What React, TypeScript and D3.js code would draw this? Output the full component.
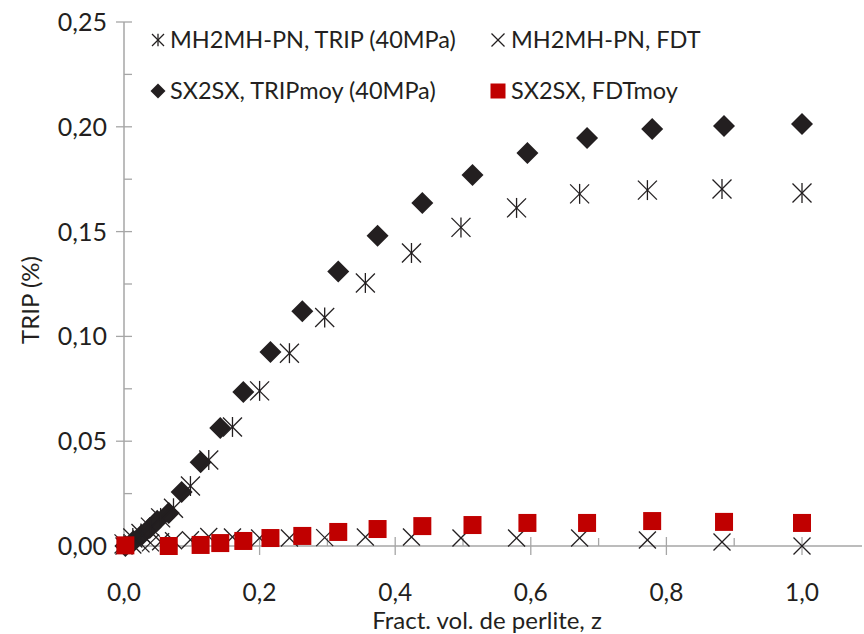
import React from "react";
import * as d3 from "d3";

// MH2MH-PN series (shared z values)
const mhZ = [0, 0.013, 0.025, 0.039, 0.054, 0.073, 0.098, 0.125, 0.16, 0.2, 0.244, 0.296, 0.356, 0.424, 0.497, 0.579, 0.672, 0.772, 0.882, 1.0];
const mhTrip = [0.001, 0.0038, 0.006, 0.009, 0.0134, 0.018, 0.0286, 0.041, 0.0568, 0.074, 0.092, 0.109, 0.1255, 0.1398, 0.152, 0.1613, 0.168, 0.1698, 0.1703, 0.1684];
const mhFdt = [0.0, 0.0005, 0.001, 0.0015, 0.002, 0.0025, 0.003, 0.0045, 0.0043, 0.0038, 0.0038, 0.004, 0.0043, 0.0043, 0.0038, 0.0038, 0.0038, 0.0029, 0.0019, 0.0];

// SX2SX series
const sxZ = [0.002, 0.014, 0.026, 0.038, 0.049, 0.066, 0.085, 0.113, 0.142, 0.176, 0.216, 0.263, 0.316, 0.374, 0.44, 0.514, 0.595, 0.683, 0.779, 0.885, 1.0];
const sxTrip = [0, 0.0024, 0.0052, 0.0086, 0.012, 0.0157, 0.0258, 0.04, 0.0563, 0.0735, 0.0926, 0.112, 0.131, 0.148, 0.1636, 0.177, 0.1875, 0.1947, 0.199, 0.2004, 0.2013];
const sxFdtZ = [0.002, 0.066, 0.113, 0.142, 0.176, 0.216, 0.263, 0.316, 0.374, 0.44, 0.514, 0.595, 0.683, 0.779, 0.885, 1.0];
const sxFdt = [0.0003, 0.0, 0.0005, 0.0014, 0.0024, 0.0038, 0.0048, 0.0067, 0.0081, 0.0095, 0.01, 0.011, 0.011, 0.0119, 0.0115, 0.011];

const xTicks = [0, 0.2, 0.4, 0.6, 0.8, 1.0];
const xMinor = [0.1, 0.3, 0.5, 0.7, 0.9];
const yTicks = [0, 0.05, 0.1, 0.15, 0.2, 0.25];
const yMinor = [0.025, 0.075, 0.125, 0.175, 0.225];

const legendLabels = ["MH2MH-PN, TRIP (40MPa)", "MH2MH-PN, FDT", "SX2SX, TRIPmoy (40MPa)", "SX2SX, FDTmoy"];

const W = 864, H = 634;
const FONT = "Lato, 'Open Sans', sans-serif";
const DARK = "#231f20";
const RED = "#c00000";
const AXIS = "#a6a6a6";

const locale = d3.formatLocale({ decimal: ",", thousands: ".", grouping: [3], currency: ["", "€"] });
const fx = locale.format(".1f");
const fy = locale.format(".2f");

function Asterisk({ cx, cy, s }: { cx: number; cy: number; s: number }) {
  const h = s / 2;
  return (
    <g stroke={DARK} strokeWidth={1.3} fill="none">
      <line x1={cx - h} y1={cy - h} x2={cx + h} y2={cy + h} />
      <line x1={cx - h} y1={cy + h} x2={cx + h} y2={cy - h} />
      <line x1={cx} y1={cy - h * 1.05} x2={cx} y2={cy + h * 1.05} />
    </g>
  );
}
function Cross({ cx, cy, s }: { cx: number; cy: number; s: number }) {
  const h = s / 2;
  return (
    <g stroke={DARK} strokeWidth={1.3} fill="none">
      <line x1={cx - h} y1={cy - h} x2={cx + h} y2={cy + h} />
      <line x1={cx - h} y1={cy + h} x2={cx + h} y2={cy - h} />
    </g>
  );
}
function Diamond({ cx, cy, s }: { cx: number; cy: number; s: number }) {
  const h = s / 2;
  return <path d={`M${cx},${cy - h}L${cx + h},${cy}L${cx},${cy + h}L${cx - h},${cy}Z`} fill={DARK} />;
}
function Square({ cx, cy, s }: { cx: number; cy: number; s: number }) {
  return <rect x={cx - s / 2} y={cy - s / 2} width={s} height={s} fill={RED} />;
}

export default function App() {
  const x = d3.scaleLinear().domain([0, 1]).range([124, 802]);
  const y = d3.scaleLinear().domain([0, 0.25]).range([546, 22]);
  const x0 = x(0), y0 = y(0);
  const LF = 23.5;

  return (
    <svg width={W} height={H} style={{ position: "absolute", left: 0, top: 0, background: "#fff" }} fontFamily={FONT}>
      <rect width={W} height={H} fill="#fff" />
      {/* axes */}
      <line x1={x0} y1={y(0.25)} x2={x0} y2={y0} stroke={AXIS} strokeWidth={1.5} />
      <line x1={x0} y1={y0} x2={862} y2={y0} stroke={AXIS} strokeWidth={1.5} />
      {yTicks.map((t) => (
        <g key={"yt" + t}>
          <line x1={x0 - 8} x2={x0 + 8} y1={y(t)} y2={y(t)} stroke={AXIS} strokeWidth={1.3} />
          <text x={107} y={y(t)} dy="0.36em" textAnchor="end" fontSize={25} fill="#231f20">{fy(t)}</text>
        </g>
      ))}
      {yMinor.map((t) => (
        <line key={"ym" + t} x1={x0} x2={x0 + 8} y1={y(t)} y2={y(t)} stroke={AXIS} strokeWidth={1.3} />
      ))}
      {xTicks.map((t) => (
        <g key={"xt" + t}>
          <line x1={x(t)} x2={x(t)} y1={y0 - 9} y2={y0 + 9} stroke={AXIS} strokeWidth={1.3} />
          <text x={x(t)} y={601} textAnchor="middle" fontSize={24.5} fill="#231f20">{fx(t)}</text>
        </g>
      ))}
      {xMinor.map((t) => (
        <line key={"xm" + t} x1={x(t)} x2={x(t)} y1={y0 - 8} y2={y0} stroke={AXIS} strokeWidth={1.3} />
      ))}
      {/* titles */}
      <text transform="translate(39,300) rotate(-90)" textAnchor="middle" fontSize={24} fill="#231f20">TRIP (%)</text>
      <text x={487} y={629} textAnchor="middle" fontSize={24} fill="#231f20">Fract. vol. de perlite, z</text>

      {/* series */}
      {sxZ.map((z, i) => <Diamond key={"d" + i} cx={x(z)} cy={y(sxTrip[i])} s={22} />)}
      {mhZ.map((z, i) => <Asterisk key={"a" + i} cx={x(z)} cy={y(mhTrip[i])} s={19} />)}
      {mhZ.map((z, i) => <Cross key={"c" + i} cx={x(z)} cy={y(mhFdt[i])} s={17} />)}
      {sxFdtZ.map((z, i) => <Square key={"s" + i} cx={x(z)} cy={y(sxFdt[i])} s={18} />)}

      {/* legend */}
      <Asterisk cx={158} cy={40} s={12} />
      <text x={170} y={40} dy="0.36em" fontSize={LF} fill="#231f20">{legendLabels[0]}</text>
      <Cross cx={498} cy={40} s={13} />
      <text x={511} y={40} dy="0.36em" fontSize={LF} fill="#231f20">{legendLabels[1]}</text>
      <Diamond cx={158} cy={91} s={15} />
      <text x={170} y={91} dy="0.36em" fontSize={LF} fill="#231f20">{legendLabels[2]}</text>
      <Square cx={498} cy={91} s={15} />
      <text x={511} y={91} dy="0.36em" fontSize={LF} fill="#231f20">{legendLabels[3]}</text>
    </svg>
  );
}
